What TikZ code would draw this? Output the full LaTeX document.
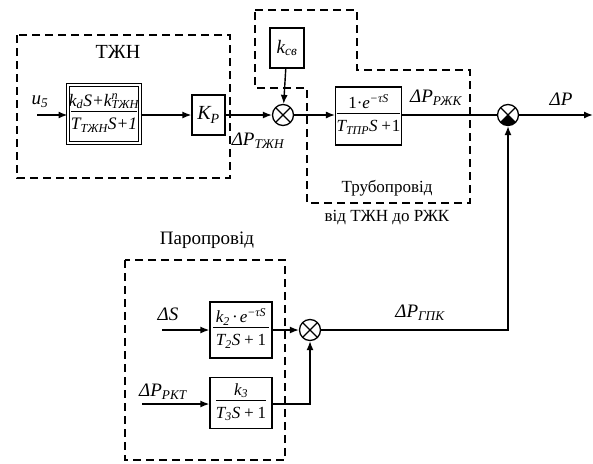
\documentclass[tikz,border=0pt]{standalone}
\usepackage{fontspec}
\setmainfont{Liberation Serif}
\usetikzlibrary{arrows.meta}
\newcommand{\lsb}[1]{\textsubscript{#1}}
\newcommand{\lsp}[1]{\textsuperscript{#1}}
\newcommand{\lsbp}[2]{\rlap{\textsuperscript{#1}}\textsubscript{#2}}
\newcommand{\lfrac}[3]{\begin{tabular}{@{}c@{}}\makebox[#1]{#2}\\[-1pt]\hline\rule{0pt}{1.05em}#3\end{tabular}}
\tikzset{
  blk/.style={draw, line width=1.3pt, inner sep=2pt},
  lbl/.style={font=\fontsize{19}{21}\selectfont\itshape, inner sep=0pt},
  grpcap/.style={font=\fontsize{17}{19}\selectfont, inner sep=0pt},
  conn/.style={line width=1.4pt, -{Latex[length=9pt,width=7pt]}},
  plain/.style={line width=1.4pt},
  grp/.style={line width=2.4pt, dash pattern=on 8pt off 5pt},
  sumx/.style={circle, draw, line width=1.3pt, minimum size=21pt, inner sep=0pt,
    path picture={\draw[line width=1.2pt] (path picture bounding box.north west) -- (path picture bounding box.south east)
      (path picture bounding box.north east) -- (path picture bounding box.south west);}},
  sumf/.style={sumx, path picture={\fill (path picture bounding box.center) -- (path picture bounding box.south west) -- (path picture bounding box.south east) -- cycle;
      \draw[line width=1.2pt] (path picture bounding box.north west) -- (path picture bounding box.south east)
      (path picture bounding box.north east) -- (path picture bounding box.south west);}},
}
\begin{document}
\begin{tikzpicture}[x=1pt,y=-1pt]
\useasboundingbox (0,0) rectangle (593,463);
% dashed groups
\draw[grp] (17,35) rectangle (230,178);
\draw[grp] (255,10) -- (357,10) -- (357,70) -- (470,70) -- (470,203) -- (307,203) -- (307,88) -- (255,88) -- cycle;
\draw[grp] (125,260) rectangle (285,460);
% group captions
\node[grpcap, font=\fontsize{20}{22}\selectfont] (captzhn) at (118,52) {ТЖН};
\node[grpcap] (captr1) at (387,188) {Трубопровід};
\node[grpcap] (captr2) at (387,218) {від ТЖН до РЖК};
\node[grpcap, font=\fontsize{19}{21}\selectfont] (cappar) at (207,240) {Паропровід};
% blocks
\node[blk, double, double distance=1.2pt, line width=1pt, minimum width=72pt, minimum height=58pt, inner sep=1pt, font=\fontsize{17.5}{19}\selectfont\itshape] (b1) at (104,114)
  {\lfrac{66pt}{k\lsb{d}S+k\lsbp{n}{ТЖН}}{T\lsb{ТЖН}S+1}};
\node[blk, minimum width=33pt, minimum height=40pt, font=\fontsize{20}{22}\selectfont\itshape] (kp) at (208.5,115) {K\lsb{P}};
\node[blk, minimum width=34pt, minimum height=40pt, font=\fontsize{19}{21}\selectfont\itshape] (kcv) at (287,48) {k\lsb{св}};
\node[sumx] (s1) at (283,115) {};
\node[blk, minimum width=63pt, minimum height=58pt, inner sep=1pt, font=\fontsize{17}{19}\selectfont\itshape] (btr) at (368.5,116)
  {\lfrac{58pt}{\upshape 1\textperiodcentered\itshape e\lsp{−τS}}{T\lsb{ТПР}S\,+\upshape 1}};
\node[sumf] (s2) at (508,115) {};
\node[blk, minimum width=62pt, minimum height=56pt, inner sep=1pt, font=\fontsize{17}{19}\selectfont\itshape] (bk2) at (241,330)
  {\lfrac{56pt}{k\lsb{2}\,\textperiodcentered\,e\lsp{−τS}}{T\lsb{2}S\,+\,\upshape 1}};
\node[blk, minimum width=62pt, minimum height=51pt, inner sep=1pt, font=\fontsize{17}{19}\selectfont\itshape] (bk3) at (241,403)
  {\lfrac{50pt}{k\lsb{3}}{T\lsb{3}S\,+\,\upshape 1}};
\node[sumx] (s3) at (310,330) {};
% labels
\node[lbl] (lu5) at (40,102) {u\lsb{5}};
\node[lbl] (lptzhn) at (258,141) {ΔP\lsb{ТЖН}};
\node[lbl] (lprzhk) at (436,98) {ΔP\lsb{РЖК}};
\node[lbl] (lp) at (561,99) {ΔP};
\node[lbl] (lds) at (168,314) {ΔS};
\node[lbl] (lprkt) at (163,392) {ΔP\lsb{РКТ}};
\node[lbl] (lpgpk) at (420,313) {ΔP\lsb{ГПК}};
% free ends
\coordinate (u5in) at (37,115);
\coordinate (out) at (593,115);
\coordinate (dsin) at (162,330);
\coordinate (pin) at (142,404);
% connectors
\draw[conn] (u5in) -- (u5in -| b1.west);
\draw[conn] (b1.east |- kp) -- (kp);
\draw[conn] (kp) -- (s1);
\draw[conn] (kcv) -- (s1);
\draw[conn] (s1) -- (btr.west |- s1);
\draw[plain] (btr.east |- s2) -- (s2);
\draw[conn] (s2) -- (out);
\draw[conn] (dsin) -- (bk2);
\draw[conn] (bk2) -- (s3);
\draw[conn] (pin) -- (pin -| bk3.west);
\draw[conn] (pin -| bk3.east) -| (s3);
\draw[conn] (s3) -| (s2);
\end{tikzpicture}
\end{document}
